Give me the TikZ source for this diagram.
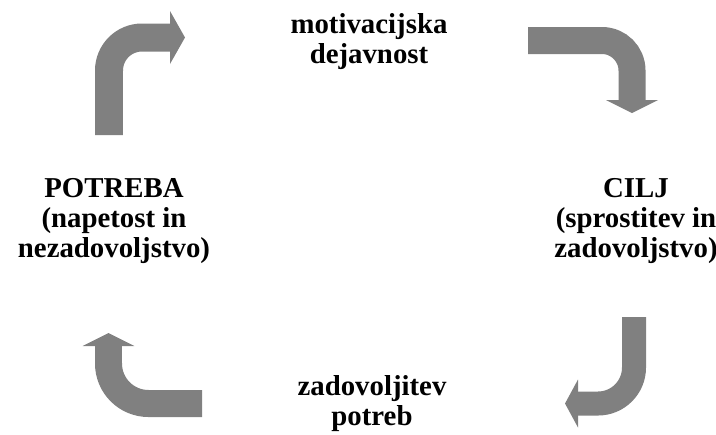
\documentclass[tikz,border=0pt]{standalone}
\usepackage{fontspec}
\setmainfont{Liberation Serif}
\usetikzlibrary{arrows.meta}
\definecolor{arrowgray}{RGB}{128,128,128}

\begin{document}
\begin{tikzpicture}[x=0.02cm, y=-0.02cm]
\tikzset{bendarrow/.style={draw=arrowgray, line width=#1},
  tekst/.style={font=\fontsize{16.4pt}{16.8pt}\selectfont\bfseries, align=center, inner sep=0pt, anchor=base}}
\useasboundingbox (0,0) rectangle (716,434);
\node[tekst] (akt) at (369,63) {motivacijska\\dejavnost};
\node[tekst] (potreba) at (114,257) {POTREBA\\(napetost in\\nezadovoljstvo)};
\node[tekst] (cilj) at (636,257) {CILJ\\(sprostitev in\\zadovoljstvo)};
\node[tekst] (zad) at (372,425) {zadovoljitev\\potreb};
% zavite puscice
\draw[bendarrow=0.56cm, rounded corners=0.66cm, -{Triangle[length=0.3cm, width=1.06cm, line width=0pt, fill=arrowgray]}]
  (109,135) -- (109,37.5) -- (185,37.5);
\draw[bendarrow=0.54cm, rounded corners=0.6cm, -{Triangle[length=0.26cm, width=1.04cm, line width=0pt, fill=arrowgray]}]
  (528,40.5) -- (632,40.5) -- (632,113);
\draw[bendarrow=0.48cm, rounded corners=0.72cm, -{Triangle[length=0.26cm, width=0.96cm, line width=0pt, fill=arrowgray]}]
  (634,317) -- (634,403.5) -- (565,403.5);
\draw[bendarrow=0.54cm, rounded corners=0.8cm, -{Triangle[length=0.26cm, width=1.04cm, line width=0pt, fill=arrowgray]}]
  (202,403.5) -- (108.5,403.5) -- (108.5,333);
\end{tikzpicture}
\end{document}
